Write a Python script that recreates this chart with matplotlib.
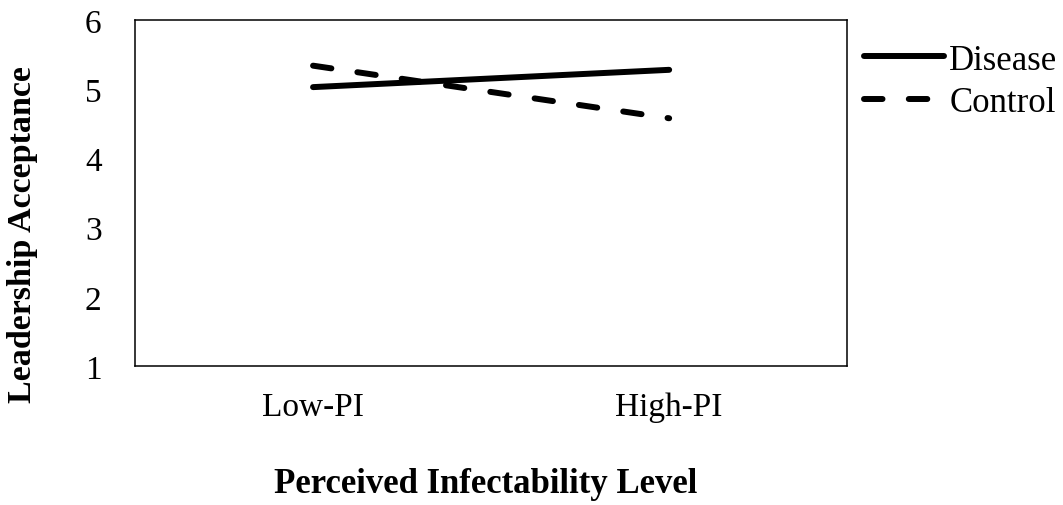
import matplotlib
matplotlib.use("Agg")
import matplotlib.pyplot as plt

plt.rcParams['font.family'] = ['Liberation Serif', 'DejaVu Serif']

levels = ['Low-PI', 'High-PI']
disease = [5.03, 5.28]
control = [5.34, 4.58]


def make_graph():
    fig = plt.figure(figsize=(10.63, 5.06), dpi=100)
    ax = fig.add_axes([0.127, 0.2747, 0.67, 0.6838])

    x = [0, 1]
    ax.plot(x, disease, color='black', lw=4.3, solid_capstyle='round', label='Disease')
    ax.plot(x, control, color='black', lw=4.3, dashes=(3.1, 4.4),
            dash_capstyle='round', label='Control')

    ax.set_xlim(-0.5, 1.5)
    ax.set_ylim(1, 6)
    ax.set_yticks(range(1, 7))
    ax.set_xticks(x)
    ax.set_xticklabels(levels, fontsize=24)
    ax.tick_params(axis='y', length=0, labelsize=24, pad=24)
    ax.tick_params(axis='x', length=0, pad=18)
    for s in ax.spines.values():
        s.set_linewidth(1.1)

    fig.text(0.457, 0.025, 'Perceived Infectability Level', fontsize=25,
             fontweight='bold', ha='center', va='baseline')
    fig.text(0.021, 0.537, 'Leadership Acceptance', fontsize=24.5,
             fontweight='bold', rotation=90, ha='center', va='center')

    fig.legend(loc='upper left', bbox_to_anchor=(0.813, 0.912), frameon=False,
               fontsize=25, handlelength=2.3, handletextpad=0.15,
               labelspacing=0.27, borderpad=0, borderaxespad=0)
    return fig


fig = make_graph()
fig.savefig('out.png', dpi=100)
